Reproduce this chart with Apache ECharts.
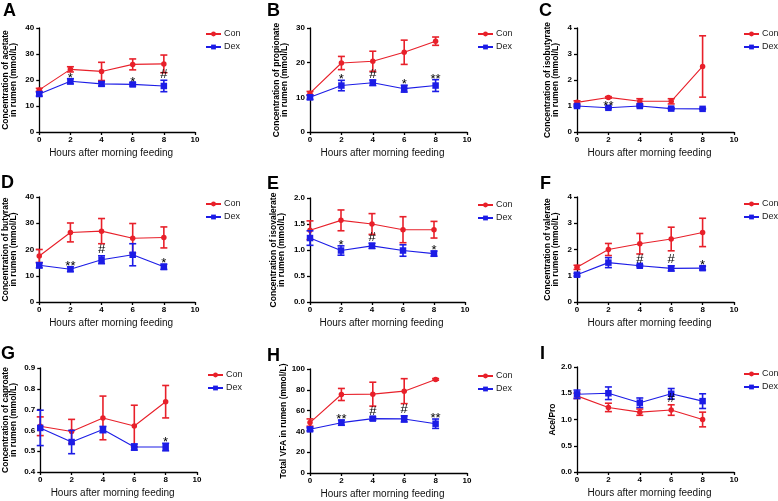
<!DOCTYPE html>
<html>
<head>
<meta charset="utf-8">
<script src="https://cdn.jsdelivr.net/npm/echarts@6/dist/echarts.min.js"></script>
<style>
  html, body { margin: 0; padding: 0; background: #fff; }
  #chart { width: 778px; height: 501px; }
</style>
</head>
<body>
<div id="chart"></div>
<script>
const hours = [0, 2, 4, 6, 8];

// A acetate
const conAcetate = [16.2, 24.1, 23.3, 26.0, 26.2];
const conAcetateSem = [0.6, 1.0, 3.5, 2.1, 3.4];
const dexAcetate = [14.6, 19.5, 18.5, 18.3, 17.7];
const dexAcetateSem = [0.8, 1.0, 0.8, 0.6, 2.2];
const acetateMarks = ['', '*', '', '*', '#'];

// B propionate
const conPropionate = [11.2, 19.9, 20.4, 23.0, 26.2];
const conPropionateSem = [0.5, 1.9, 2.9, 3.5, 1.2];
const dexPropionate = [10.0, 13.4, 14.2, 12.5, 13.4];
const dexPropionateSem = [0.6, 1.5, 0.8, 1.0, 1.7];
const propionateMarks = ['', '*', '#', '*', '**'];

// C isobutyrate
const conIsobutyrate = [1.14, 1.33, 1.18, 1.18, 2.52];
const conIsobutyrateSem = [0.06, 0.03, 0.1, 0.1, 1.18];
const dexIsobutyrate = [1.0, 0.93, 1.0, 0.9, 0.89];
const dexIsobutyrateSem = [0.03, 0.03, 0.03, 0.03, 0.02];
const isobutyrateMarks = ['', '**', '', '', ''];

// D butyrate
const conButyrate = [17.5, 26.5, 27.0, 24.3, 24.6];
const conButyrateSem = [2.5, 3.6, 4.8, 5.6, 4.0];
const dexButyrate = [14.0, 12.5, 16.1, 18.0, 13.4];
const dexButyrateSem = [1.0, 0.9, 1.5, 4.2, 1.0];
const butyrateMarks = ['', '**', '#', '', '*'];

// E isovalerate
const conIsovalerate = [1.38, 1.57, 1.50, 1.39, 1.39];
const conIsovalerateSem = [0.18, 0.2, 0.2, 0.25, 0.16];
const dexIsovalerate = [1.23, 0.99, 1.08, 0.99, 0.93];
const dexIsovalerateSem = [0.14, 0.09, 0.05, 0.11, 0.05];
const isovalerateMarks = ['', '*', '#', '', '*'];

// F valerate
const conValerate = [1.32, 2.0, 2.22, 2.4, 2.65];
const conValerateSem = [0.08, 0.23, 0.39, 0.45, 0.54];
const dexValerate = [1.04, 1.5, 1.38, 1.28, 1.29];
const dexValerateSem = [0.05, 0.19, 0.03, 0.1, 0.07];
const valerateMarks = ['', '', '#', '#', '*'];

// G caproate
const conCaproate = [0.62, 0.595, 0.66, 0.621, 0.738];
const conCaproateSem = [0.045, 0.058, 0.105, 0.1, 0.078];
const dexCaproate = [0.612, 0.544, 0.604, 0.52, 0.52];
const dexCaproateSem = [0.085, 0.056, 0.015, 0.015, 0.018];
const caproateMarks = ['', '', '', '', '*'];

// H total VFA
const conTotal = [48.5, 75.5, 75.8, 78.7, 90.0];
const conTotalSem = [3.5, 5.8, 11.5, 12.0, 0.8];
const dexTotal = [42.0, 48.4, 52.3, 52.0, 47.4];
const dexTotalSem = [1.5, 2.5, 1.5, 3.0, 4.5];
const totalMarks = ['', '**', '#', '#', '**'];

// I acetate / propionate
const conRatio = [1.45, 1.23, 1.14, 1.18, 1.0];
const conRatioSem = [0.05, 0.08, 0.06, 0.1, 0.14];
const dexRatio = [1.48, 1.5, 1.32, 1.49, 1.35];
const dexRatioSem = [0.08, 0.12, 0.09, 0.1, 0.14];
const ratioMarks = ['', '', '', '#', ''];

const panelLetters = ['A', 'B', 'C', 'D', 'E', 'F', 'G', 'H', 'I'];
const yNames = [
    'Concentration of acetate\nin rumen (mmol/L)',
    'Concentration of propionate\nin rumen (mmol/L)',
    'Concentration of isobutyrate\nin rumen (mmol/L)',
    'Concentration of butyrate\nin rumen (mmol/L)',
    'Concentration of isovalerate\nin rumen (mmol/L)',
    'Concentration of valerate\nin rumen (mmol/L)',
    'Concentration of caproate\nin rumen (mmol/L)',
    'Total VFA in rumen (mmol/L)',
    'Ace/Pro'
];
const yMin = [0, 0, 0, 0, 0, 0, 0.4, 0, 0];
const yMax = [40, 30, 4, 40, 2, 4, 0.9, 100, 2];
const yStep = [10, 10, 1, 10, 0.5, 1, 0.1, 20, 0.5];
const yDigits = [0, 0, 0, 0, 1, 0, 1, 0, 1];

const panelData = [
    [conAcetate, conAcetateSem, dexAcetate, dexAcetateSem, acetateMarks],
    [conPropionate, conPropionateSem, dexPropionate, dexPropionateSem, propionateMarks],
    [conIsobutyrate, conIsobutyrateSem, dexIsobutyrate, dexIsobutyrateSem, isobutyrateMarks],
    [conButyrate, conButyrateSem, dexButyrate, dexButyrateSem, butyrateMarks],
    [conIsovalerate, conIsovalerateSem, dexIsovalerate, dexIsovalerateSem, isovalerateMarks],
    [conValerate, conValerateSem, dexValerate, dexValerateSem, valerateMarks],
    [conCaproate, conCaproateSem, dexCaproate, dexCaproateSem, caproateMarks],
    [conTotal, conTotalSem, dexTotal, dexTotalSem, totalMarks],
    [conRatio, conRatioSem, dexRatio, dexRatioSem, ratioMarks]
];

// layout, pixels
const grids = [
    [39, 28, 156, 104], [310, 28, 157, 104], [577, 28, 157, 104],
    [39, 197, 156, 105], [310, 198, 155, 104], [577, 197, 157, 105],
    [40, 368, 157, 104], [310, 369, 157, 104], [577, 367, 157, 105]
];
const nameGaps = [21, 21, 17, 21, 24, 17, 22, 22, 19];
const legendPos = [[205, 28], [477, 28], [743, 28], [205, 198], [477, 199], [743, 198], [207, 369], [477, 370], [743, 368]];
const letterPos = [[3, 2], [267, 2], [539, 2], [1, 174], [267, 175], [540, 175], [1, 345], [267, 347], [540, 345]];

const RED = '#e8202a';
const BLUE = '#1c1ce6';
const FONT = 'Liberation Sans, Arial, sans-serif';

function errorBarItem(params, api) {
    const x = api.value(0), y = api.value(1), e = api.value(2);
    const top = api.coord([x, y + e]);
    const bot = api.coord([x, y - e]);
    const hw = 3.5;
    const style = { stroke: api.visual('color'), lineWidth: 1.6 };
    return {
        type: 'group',
        children: [
            { type: 'line', shape: { x1: top[0], y1: top[1], x2: bot[0], y2: bot[1] }, style: style },
            { type: 'line', shape: { x1: top[0] - hw, y1: top[1], x2: top[0] + hw, y2: top[1] }, style: style },
            { type: 'line', shape: { x1: bot[0] - hw, y1: bot[1], x2: bot[0] + hw, y2: bot[1] }, style: style }
        ]
    };
}

function markRenderer(marks) {
    return function (params, api) {
        const p = api.coord([api.value(0), api.value(1)]);
        const text = marks[api.value(2)];
        const dy = text.charAt(0) === '#' ? -6 : -0.5;
        return {
            type: 'text',
            x: p[0],
            y: p[1] + dy,
            style: {
                text: text,
                fill: '#000',
                fontSize: 13,
                fontFamily: FONT,
                align: 'center',
                verticalAlign: 'middle'
            }
        };
    };
}

const option = {
    animation: false,
    backgroundColor: '#fff',
    title: [], grid: [], xAxis: [], yAxis: [], legend: [], series: []
};

panelData.forEach(function (d, i) {
    const con = d[0], conSem = d[1], dex = d[2], dexSem = d[3], marks = d[4];
    const g = grids[i];
    option.title.push({
        text: panelLetters[i], left: letterPos[i][0], top: letterPos[i][1], padding: 0,
        textStyle: { fontSize: 18, fontWeight: 'bold', color: '#000', fontFamily: FONT }
    });
    option.grid.push({ left: g[0], top: g[1], width: g[2], height: g[3] });
    option.xAxis.push({
        gridIndex: i, type: 'value', min: 0, max: 10, interval: 2,
        name: 'Hours after morning feeding', nameLocation: 'middle', nameGap: 16,
        nameTextStyle: { fontSize: 10, color: '#111', fontFamily: FONT, padding: [0, 12, 0, 0] },
        axisLine: { show: true, lineStyle: { color: '#000', width: 1.3 } },
        axisTick: { show: true, length: 3, lineStyle: { color: '#000', width: 1.3 } },
        axisLabel: { fontSize: 8, fontWeight: 'bold', color: '#000', fontFamily: FONT, margin: 4 },
        splitLine: { show: false }
    });
    option.yAxis.push({
        gridIndex: i, type: 'value', min: yMin[i], max: yMax[i], interval: yStep[i],
        name: yNames[i], nameLocation: 'middle', nameGap: nameGaps[i],
        nameTextStyle: { fontSize: 8.5, fontWeight: 'bold', lineHeight: 8.5, color: '#000', fontFamily: FONT },
        axisLine: { show: true, lineStyle: { color: '#000', width: 1.3 } },
        axisTick: { show: true, length: 3, lineStyle: { color: '#000', width: 1.3 } },
        axisLabel: {
            fontSize: 8, fontWeight: 'bold', color: '#000', fontFamily: FONT, margin: 5,
            formatter: function (v) { return v.toFixed(yDigits[i]); }
        },
        splitLine: { show: false }
    });
    option.legend.push({
        data: ['Con', 'Dex'], left: legendPos[i][0], top: legendPos[i][1], orient: 'vertical',
        padding: 0, itemWidth: 15, itemHeight: 6, itemGap: 1, selectedMode: false,
        textStyle: { fontSize: 9, color: '#222', fontFamily: FONT, lineHeight: 12, padding: [0, 0, 0, -2] }
    });

    const groups = [
        { name: 'Con', mean: con, sem: conSem, color: RED, symbol: 'circle', size: 5.5, z: 3 },
        { name: 'Dex', mean: dex, sem: dexSem, color: BLUE, symbol: 'rect', size: 6.5, z: 4 }
    ];
    groups.forEach(function (s) {
        option.series.push({
            type: 'custom', name: s.name + ' SEM', xAxisIndex: i, yAxisIndex: i, z: s.z,
            itemStyle: { color: s.color }, renderItem: errorBarItem,
            encode: { x: 0, y: 1 }, silent: true,
            data: hours.map(function (h, k) { return [h, s.mean[k], s.sem[k]]; })
        });
        option.series.push({
            type: 'line', name: s.name, xAxisIndex: i, yAxisIndex: i, z: s.z,
            symbol: s.symbol, symbolSize: s.size, showSymbol: true,
            color: s.color, itemStyle: { color: s.color },
            lineStyle: { color: s.color, width: 1.1 },
            data: hours.map(function (h, k) { return [h, s.mean[k]]; })
        });
    });

    // significance marks above the lower group's error bar
    const markData = [];
    hours.forEach(function (h, k) {
        if (!marks[k]) return;
        const top = dex[k] <= con[k] ? dex[k] + dexSem[k] : con[k] + conSem[k];
        markData.push([h, top, k]);
    });
    option.series.push({
        type: 'custom', name: 'marks', xAxisIndex: i, yAxisIndex: i, z: 6, silent: true,
        encode: { x: 0, y: 1 }, renderItem: markRenderer(marks), data: markData
    });
});

const chart = echarts.init(document.getElementById('chart'));
chart.setOption(option);
</script>
</body>
</html>
